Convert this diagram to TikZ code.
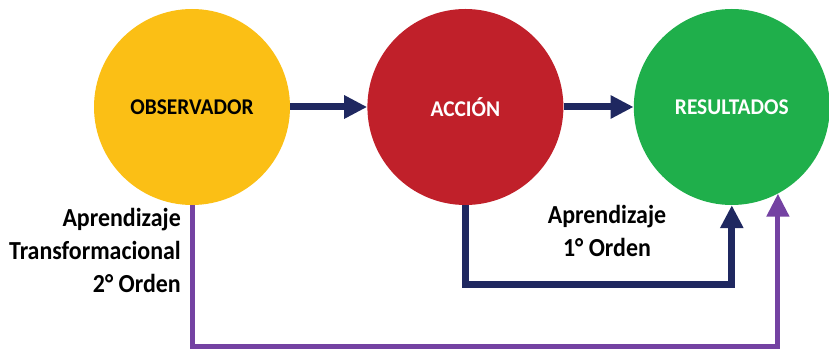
\documentclass[tikz,border=0pt]{standalone}
\usepackage{fontspec}
\setmainfont{Carlito}
\usetikzlibrary{arrows.meta,positioning}
\definecolor{obsyellow}{HTML}{FBBF15}
\definecolor{accred}{HTML}{C0202A}
\definecolor{resgreen}{HTML}{1FAF4B}
\definecolor{navy}{HTML}{1F2860}
\definecolor{lilac}{HTML}{7442A2}

\begin{document}
\begin{tikzpicture}[
  x=1pt,y=-1pt,
  stage/.style={circle,minimum size=196pt,inner sep=0pt},
  stagetext/.style={font=\fontsize{22.5}{24}\selectfont\bfseries,
    inner sep=0pt,xscale=0.95},
  lbl/.style={font=\fontsize{26}{33}\selectfont\bfseries,inner sep=0pt,
    xscale=0.92},
  arr/.style={-{Triangle[width=22pt,length=23pt]},line width=7pt,color=navy},
  parr/.style={-{Triangle[width=22pt,length=23pt]},line width=5pt,color=lilac},
]
\useasboundingbox (0,0) rectangle (829,352);
\node[stage,fill=obsyellow] (obs) at (192,107) {};
\node[stage,fill=accred,right=77pt of obs] (acc) {};
\node[stage,fill=resgreen,right=70pt of acc] (res) {};
\node[stagetext,text=black] (obst) at (obs) {OBSERVADOR};
\node[stagetext,text=white] (acct) at (acc) {ACCIÓN};
\node[stagetext,text=white] (rest) at (res) {RESULTADOS};
\node[lbl,align=right,anchor=east] (ord2) at (181,250)
  {Aprendizaje\\Transformacional\\2° Orden};
\node[lbl,align=center] (ord1) at (607,231) {Aprendizaje\\1° Orden};
\draw[arr] (obs) -- (acc);
\draw[arr] (acc) -- (res);
\draw[arr] (acc.south) -- ++(0,79) -| (res.south);
\draw[parr] (obs.south) -- ++(0,141) -| (res.-62);
\end{tikzpicture}
\end{document}
